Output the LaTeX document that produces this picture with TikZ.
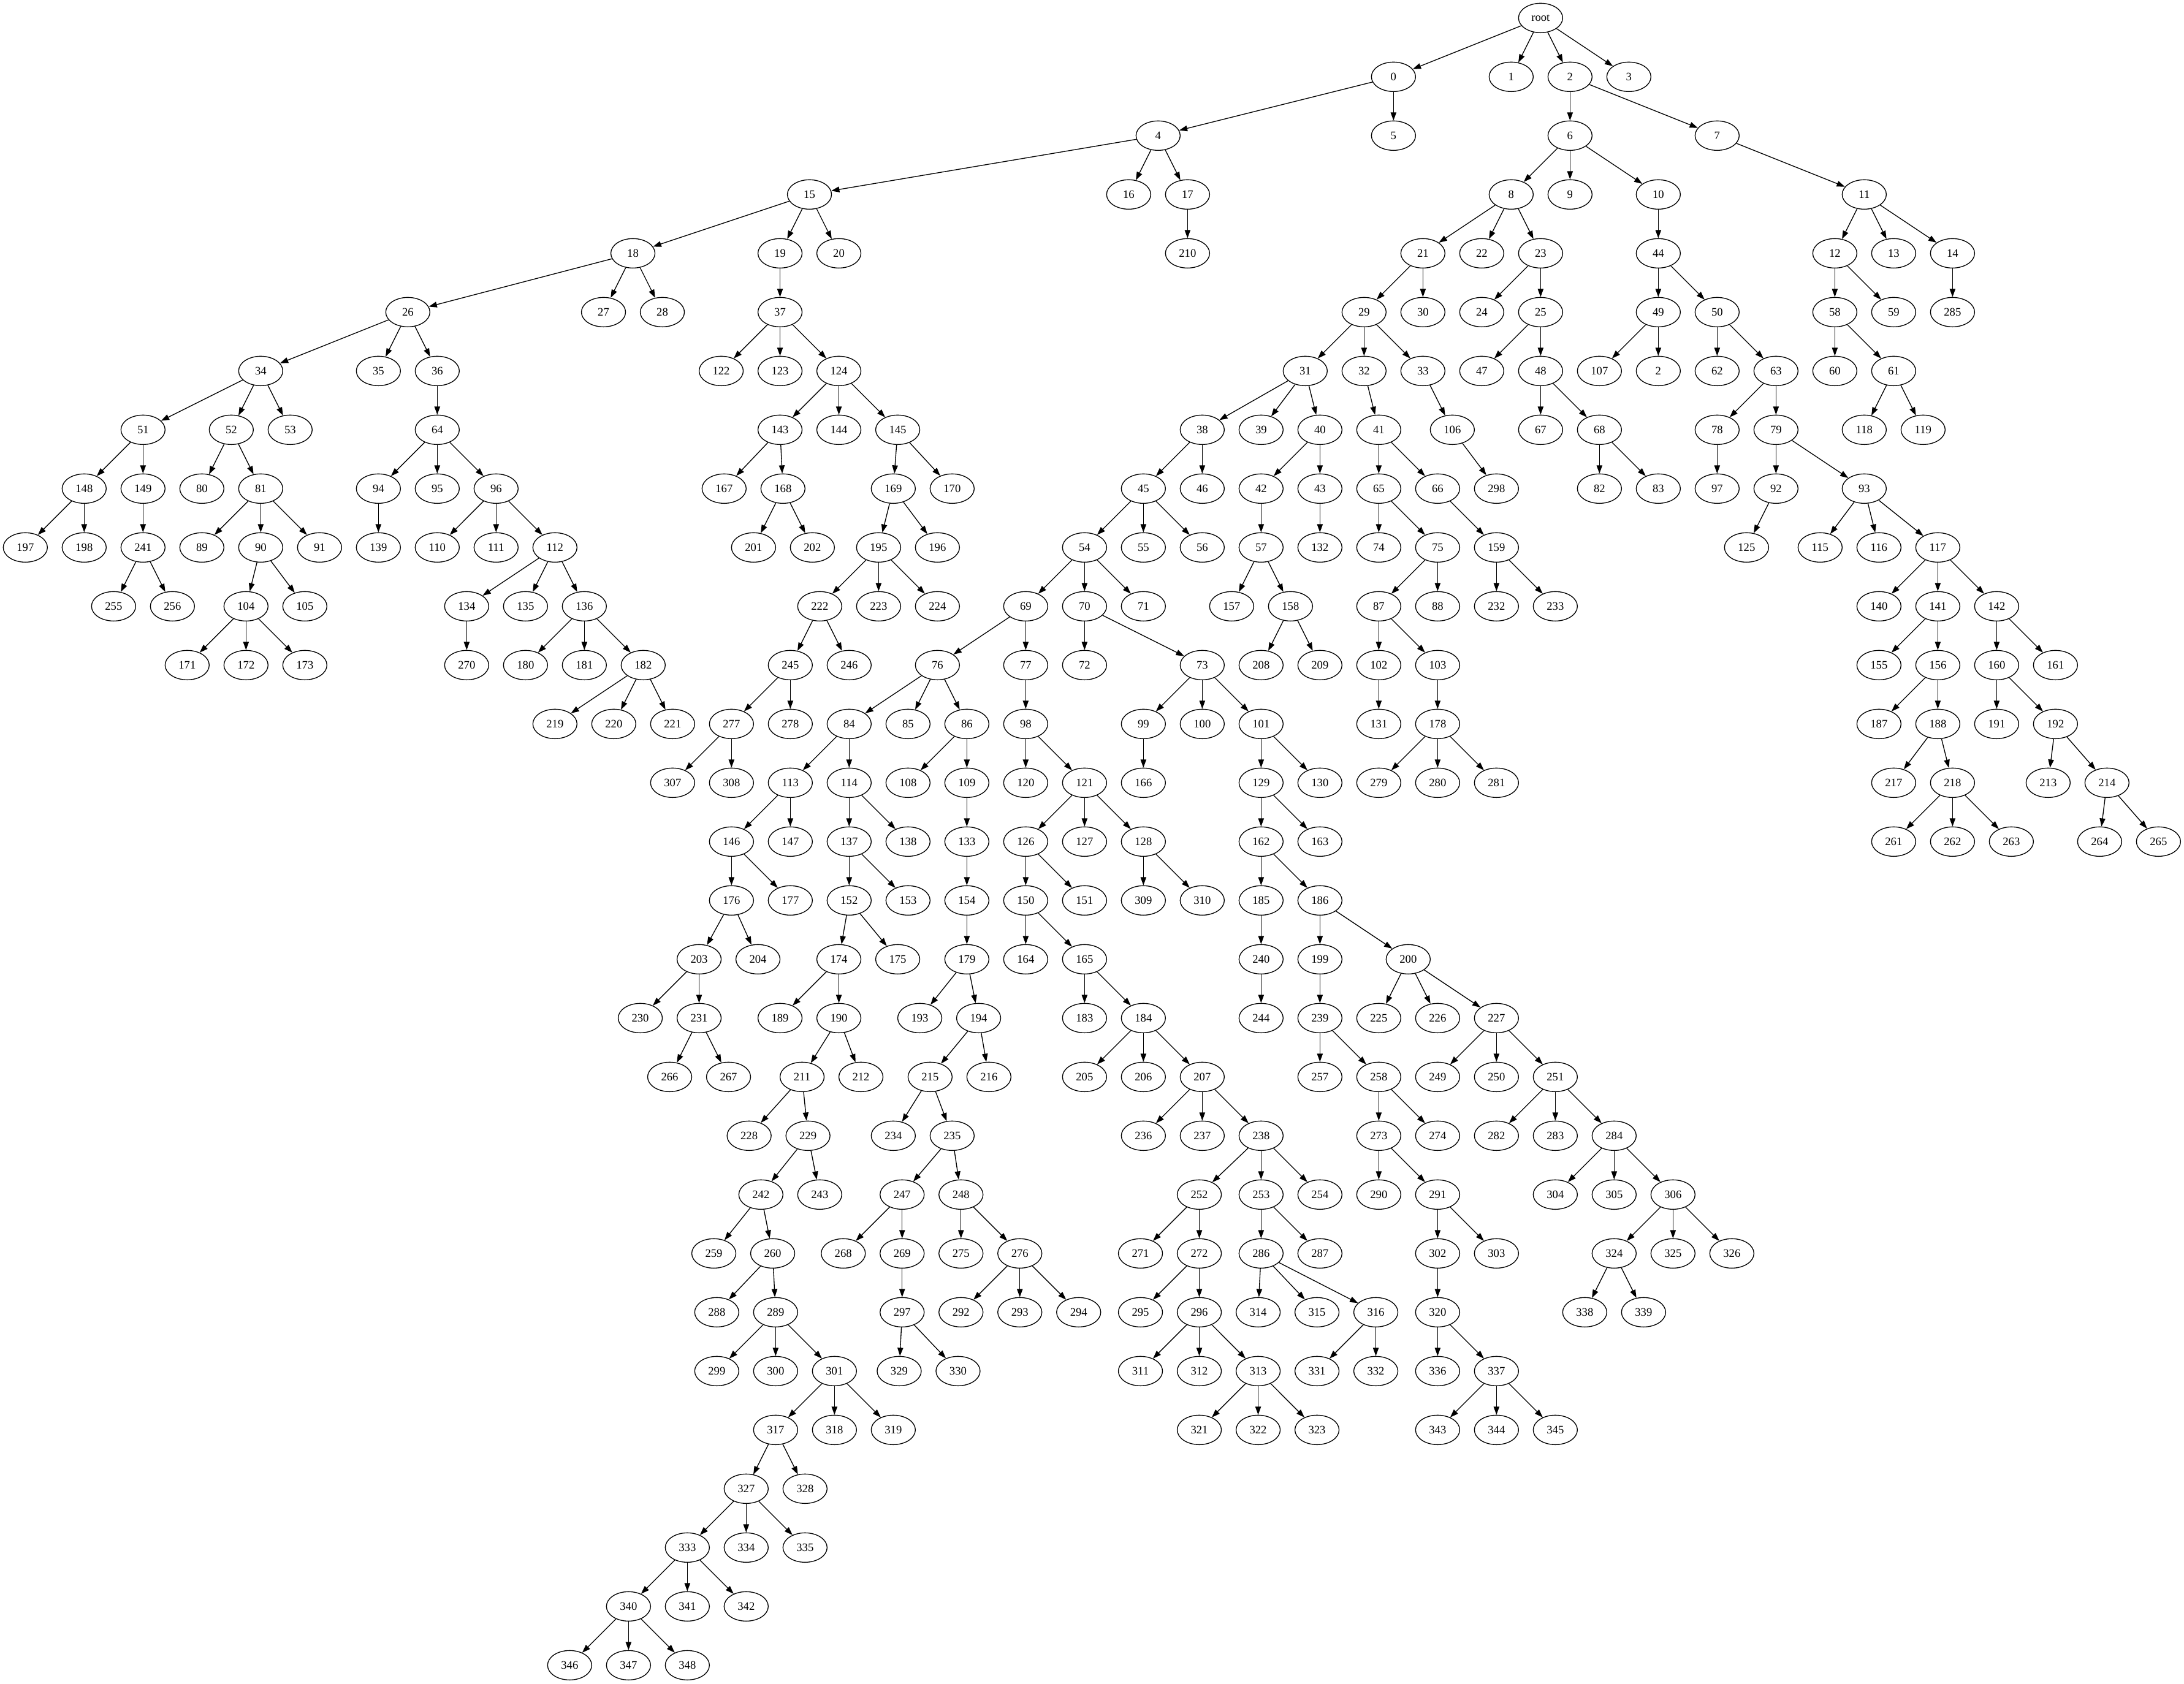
\documentclass[tikz,border=0pt]{standalone}
\usepackage{fontspec}
\setmainfont{Liberation Serif}
\usetikzlibrary{shapes.geometric,arrows.meta}

% one rank of the tree: #1 = rank, #2 = list of label/slot
\newcommand{\rankrow}[2]{%
  \foreach \n/\k in {#2} {\node[vert] (n\n) at ({31+18*\k},{-22-72*#1}) {\n};}}

\begin{document}
\begin{tikzpicture}[
    x=1bp, y=1bp,
    vert/.style={ellipse, draw, line width=1bp, minimum width=54bp, minimum height=36bp, inner sep=0pt, font=\fontsize{14bp}{16bp}\selectfont},
    arrow/.style={-{Triangle[length=10bp,width=7bp]}, line width=1bp}
]
\useasboundingbox (0,0) rectangle (2672.25,-2060.25);

% Nodes, rank by rank
\rankrow{0}{root/103}
\rankrow{1}{0/93, 1/101, 2/105, 3/109}
\rankrow{2}{4/77, 5/93, 6/105, 7/115}
\rankrow{3}{15/53.3, 16/75, 17/79, 8/101, 9/105, 10/111, 11/125}
\rankrow{4}{18/41.3, 19/51.3, 20/55.3, 210/79, 21/95, 22/99, 23/103, 44/111, 12/123, 13/127, 14/131}
\rankrow{5}{26/26, 27/39.3, 28/43.3, 37/51.3, 29/91, 30/95, 24/99, 25/103, 49/111, 50/115, 58/123, 59/127, 285/131}
\rankrow{6}{34/16, 35/24, 36/28, 122/47.3, 123/51.3, 124/55.3, 31/87, 32/91, 33/95, 47/99, 48/103, 107/107, 62/115, 63/119, 60/123, 61/127}
\node[vert] (n2b) at ({31+18*111},{-22-72*6}) {2};
\rankrow{7}{51/8, 52/14, 53/18, 64/28, 143/51.3, 144/55.3, 145/59.3, 38/80, 39/84, 40/88, 41/92, 106/97, 67/103, 68/107, 78/115, 79/119, 118/125, 119/129}
\rankrow{8}{148/4, 149/8, 80/12, 81/16, 94/24, 95/28, 96/32, 167/47.5, 168/51.5, 169/59, 170/63, 45/76, 46/80, 42/84, 43/88, 65/92, 66/96, 298/100, 82/107, 83/111, 97/115, 92/119, 93/125}
\rankrow{9}{197/0, 198/4, 241/8, 89/12, 90/16, 91/20, 139/24, 110/28, 111/32, 112/36, 201/49.5, 202/53.5, 195/58, 196/62, 54/72, 55/76, 56/80, 57/84, 132/88, 74/92, 75/96, 159/100, 125/117, 115/122, 116/126, 117/130}
\rankrow{10}{255/6, 256/10, 104/15, 105/19, 134/30, 135/34, 136/38, 222/54, 223/58, 224/62, 69/68, 70/72, 71/76, 157/82, 158/86, 87/92, 88/96, 232/100, 233/104, 140/126, 141/130, 142/134}
\rankrow{11}{171/11, 172/15, 173/19, 270/30, 180/34, 181/38, 182/42, 245/52, 246/56, 76/62, 77/68, 72/72, 73/80, 208/84, 209/88, 102/92, 103/96, 155/126, 156/130, 160/134, 161/138}
\rankrow{12}{219/36, 220/40, 221/44, 277/48, 278/52, 84/56, 85/60, 86/64, 98/68, 99/76, 100/80, 101/84, 131/92, 178/96, 187/126, 188/130, 191/134, 192/138}
\rankrow{13}{307/44, 308/48, 113/52, 114/56, 108/60, 109/64, 120/68, 121/72, 166/76, 129/84, 130/88, 279/92, 280/96, 281/100, 217/127, 218/131, 213/137.5, 214/141.5}
\rankrow{14}{146/48, 147/52, 137/56, 138/60, 133/64, 126/68, 127/72, 128/76, 162/84, 163/88, 261/127, 262/131, 263/135, 264/141, 265/145}
\rankrow{15}{176/48, 177/52, 152/56, 153/60, 154/64, 150/68, 151/72, 309/76, 310/80, 185/84, 186/88}
\rankrow{16}{203/45.8, 204/49.8, 174/55.3, 175/59.3, 179/64, 164/68, 165/72, 240/84, 199/88, 200/94}
\rankrow{17}{230/41.8, 231/45.8, 189/51.3, 190/55.3, 193/60.8, 194/64.8, 183/72, 184/76, 244/84, 239/88, 225/92, 226/96, 227/100}
\rankrow{18}{266/43.8, 267/47.8, 211/52.8, 212/56.8, 215/61.5, 216/65.5, 205/72, 206/76, 207/80, 257/88, 258/92, 249/96, 250/100, 251/104}
\rankrow{19}{228/49.2, 229/53.2, 234/59, 235/63, 236/76, 237/80, 238/84, 273/92, 274/96, 282/100, 283/104, 284/108}
\rankrow{20}{242/50, 243/54, 247/59.6, 248/63.6, 252/79.8, 253/84, 254/88, 290/92, 291/96, 304/104, 305/108, 306/112}
\rankrow{21}{259/46.8, 260/50.8, 268/55.6, 269/59.6, 275/63.6, 276/67.6, 271/75.8, 272/79.8, 286/84, 287/88, 302/96, 303/100, 324/108, 325/112, 326/116}
\rankrow{22}{288/47, 289/51, 297/59.6, 292/63.6, 293/67.6, 294/71.6, 295/75.8, 296/79.8, 314/83.8, 315/87.8, 316/91.8, 320/96, 338/106, 339/110}
\rankrow{23}{299/47, 300/51, 301/55, 329/59.4, 330/63.4, 311/75.8, 312/79.8, 313/83.8, 331/87.8, 332/91.8, 336/96, 337/100}
\rankrow{24}{317/51, 318/55, 319/59, 321/79.8, 322/83.8, 323/87.8, 343/96, 344/100, 345/104}
\rankrow{25}{327/49, 328/53}
\rankrow{26}{333/45, 334/49, 335/53}
\rankrow{27}{340/41, 341/45, 342/49}
\rankrow{28}{346/37, 347/41, 348/45}

% Arrows, parent/children
\foreach \p/\cs in {root/{0,1,2,3}, 0/{4,5}, 2/{6,7}, 4/{15,16,17}, 6/{8,9,10}, 7/{11},
    15/{18,19,20}, 17/{210}, 8/{21,22,23}, 10/{44}, 11/{12,13,14},
    18/{26,27,28}, 19/{37}, 21/{29,30}, 23/{24,25}, 44/{49,50}, 12/{58,59}, 14/{285},
    26/{34,35,36}, 37/{122,123,124}, 29/{31,32,33}, 25/{47,48}, 49/{107,2b}, 50/{62,63}, 58/{60,61},
    34/{51,52,53}, 36/{64}, 124/{143,144,145}, 31/{38,39,40}, 32/{41}, 33/{106}, 48/{67,68}, 63/{78,79}, 61/{118,119},
    51/{148,149}, 52/{80,81}, 64/{94,95,96}, 143/{167,168}, 145/{169,170}, 38/{45,46}, 40/{42,43}, 41/{65,66}, 106/{298}, 68/{82,83}, 78/{97}, 79/{92,93},
    148/{197,198}, 149/{241}, 81/{89,90,91}, 94/{139}, 96/{110,111,112}, 168/{201,202}, 169/{195,196}, 45/{54,55,56}, 42/{57}, 43/{132}, 65/{74,75}, 66/{159}, 92/{125}, 93/{115,116,117},
    241/{255,256}, 90/{104,105}, 112/{134,135,136}, 195/{222,223,224}, 54/{69,70,71}, 57/{157,158}, 75/{87,88}, 159/{232,233}, 117/{140,141,142},
    104/{171,172,173}, 134/{270}, 136/{180,181,182}, 222/{245,246}, 69/{76,77}, 70/{72,73}, 158/{208,209}, 87/{102,103}, 141/{155,156}, 142/{160,161},
    182/{219,220,221}, 245/{277,278}, 76/{84,85,86}, 77/{98}, 73/{99,100,101}, 102/{131}, 103/{178}, 156/{187,188}, 160/{191,192},
    277/{307,308}, 84/{113,114}, 86/{108,109}, 98/{120,121}, 99/{166}, 101/{129,130}, 178/{279,280,281}, 188/{217,218}, 192/{213,214},
    113/{146,147}, 114/{137,138}, 109/{133}, 121/{126,127,128}, 129/{162,163}, 218/{261,262,263}, 214/{264,265},
    146/{176,177}, 137/{152,153}, 133/{154}, 126/{150,151}, 128/{309,310}, 162/{185,186},
    176/{203,204}, 152/{174,175}, 154/{179}, 150/{164,165}, 185/{240}, 186/{199,200},
    203/{230,231}, 174/{189,190}, 179/{193,194}, 165/{183,184}, 240/{244}, 199/{239}, 200/{225,226,227},
    231/{266,267}, 190/{211,212}, 194/{215,216}, 184/{205,206,207}, 239/{257,258}, 227/{249,250,251},
    211/{228,229}, 215/{234,235}, 207/{236,237,238}, 258/{273,274}, 251/{282,283,284},
    229/{242,243}, 235/{247,248}, 238/{252,253,254}, 273/{290,291}, 284/{304,305,306},
    242/{259,260}, 247/{268,269}, 248/{275,276}, 252/{271,272}, 253/{286,287}, 291/{302,303}, 306/{324,325,326},
    260/{288,289}, 269/{297}, 276/{292,293,294}, 272/{295,296}, 286/{314,315,316}, 302/{320}, 324/{338,339},
    289/{299,300,301}, 297/{329,330}, 296/{311,312,313}, 316/{331,332}, 320/{336,337},
    301/{317,318,319}, 313/{321,322,323}, 337/{343,344,345},
    317/{327,328}, 327/{333,334,335}, 333/{340,341,342}, 340/{346,347,348}}
  {\foreach \c in \cs {\draw[arrow] (n\p) -- (n\c);}}

\end{tikzpicture}
\end{document}
